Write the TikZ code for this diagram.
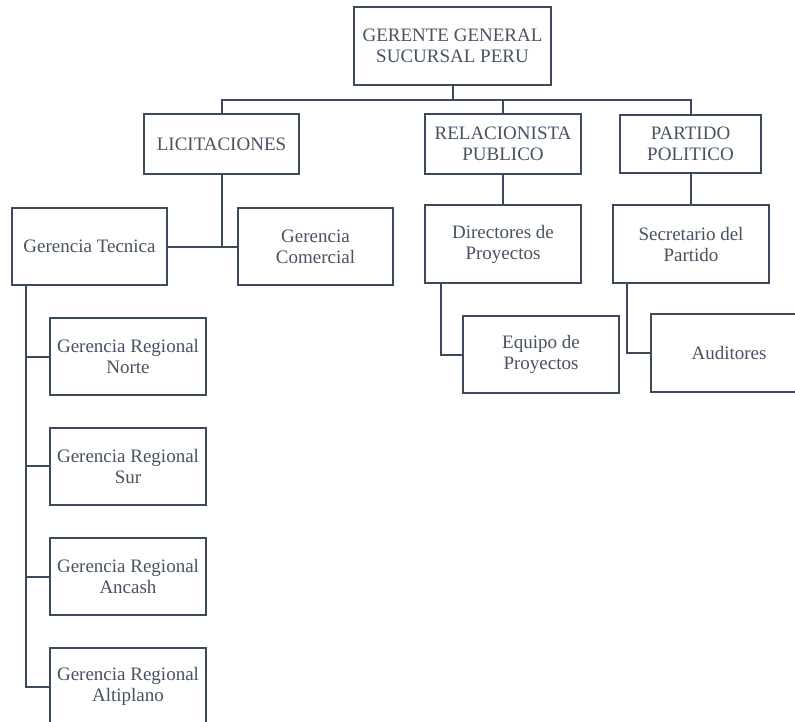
\documentclass[tikz,border=0pt]{standalone}
\usepackage{fontspec}
\setmainfont{Liberation Serif}
\definecolor{edge}{RGB}{60,74,92}
\definecolor{ink}{RGB}{72,82,98}
\begin{document}
\begin{tikzpicture}[x=1bp,y=-1bp,
  box/.style={draw=edge, line width=2bp, fill=white, align=center, text=ink,
    inner sep=2bp, minimum width=155bp, minimum height=77bp,
    font=\fontsize{19bp}{21bp}\selectfont},
  link/.style={draw=edge, line width=2bp}]
\clip (0,0) rectangle (795,722);
\fill[white] (0,0) rectangle (795,722);

% top level
\node[box, minimum width=197bp, minimum height=78bp] (gg) at (452.5,46) {GERENTE GENERAL\\SUCURSAL PERU};

% second level
\node[box, minimum height=60bp] (lic) at (221.5,144) {LICITACIONES};
\node[box, minimum width=156bp, minimum height=60bp] (rel) at (503,144) {RELACIONISTA\\PUBLICO};
\node[box, minimum width=141bp, minimum height=58bp] (par) at (690.5,144) {PARTIDO\\POLITICO};

% third level
\node[box] (tec) at (89.5,246.5) {Gerencia Tecnica};
\node[box] (com) at (315.5,246.5) {Gerencia\\Comercial};
\node[box, minimum width=156bp, minimum height=78bp] (dir) at (503,244) {Directores de\\Proyectos};
\node[box, minimum width=156bp, minimum height=78bp] (sec) at (691,244) {Secretario del\\Partido};

% fourth level
\node[box, minimum width=156bp] (eq) at (541,354.5) {Equipo de\\Proyectos};
\node[box, minimum width=156bp, minimum height=78bp] (aud) at (729,353) {Auditores};
\node[box, minimum width=156bp] (norte) at (128,356.5) {Gerencia Regional\\Norte};
\node[box, minimum width=156bp] (sur) at (128,466) {Gerencia Regional\\Sur};
\node[box, minimum width=156bp] (anc) at (128,576.5) {Gerencia Regional\\Ancash};
\node[box, minimum width=156bp] (alt) at (128,686.5) {Gerencia Regional\\Altiplano};

% connectors
\coordinate (bus) at (0,100);
\draw[link] (gg.south) -- (gg.south |- bus);
\draw[link] (lic.north) -- (lic.north |- bus) -| (par.north);
\draw[link] (rel.north) -- (rel.north |- bus);

\draw[link] (lic.south) -- (lic.south |- tec.east);
\draw[link] (tec.east) -- (com.west);

\draw[link] ([xshift=15bp]tec.south west) |- (alt.west);
\draw[link] ([xshift=15bp]tec.south west |- norte.west) -- (norte.west);
\draw[link] ([xshift=15bp]tec.south west |- sur.west) -- (sur.west);
\draw[link] ([xshift=15bp]tec.south west |- anc.west) -- (anc.west);

\draw[link] (rel.south) -- (dir.north);
\draw[link] ([xshift=17bp]dir.south west) |- (eq.west);

\draw[link] (par.south) -- (par.south |- sec.north);
\draw[link] ([xshift=15bp]sec.south west) |- (aud.west);
\end{tikzpicture}
\end{document}
